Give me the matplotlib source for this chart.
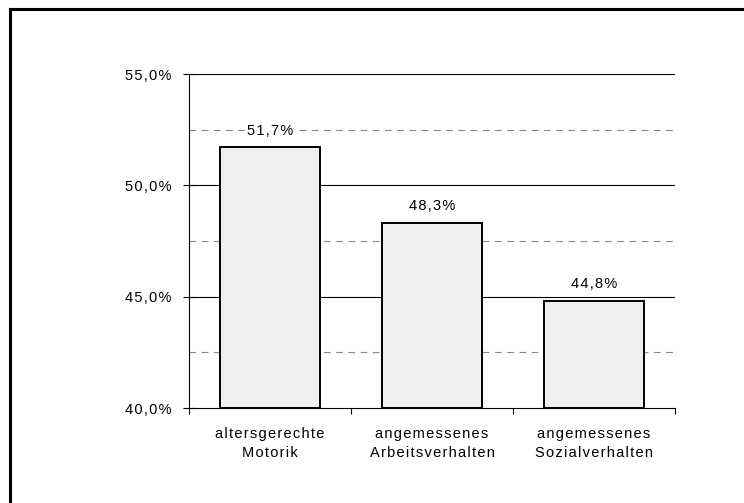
import matplotlib
matplotlib.use("Agg")
import matplotlib.pyplot as plt
from matplotlib.lines import Line2D

categories = ["altersgerechte\nMotorik", "angemessenes\nArbeitsverhalten",
              "angemessenes\nSozialverhalten"]
values = [51.7, 48.3, 44.8]
major_ticks = [40.0, 45.0, 50.0, 55.0]
minor_ticks = [42.5, 47.5, 52.5]

plt.rcParams["font.family"] = ["Liberation Sans", "DejaVu Sans"]


def spaced(s):
    # the reference uses slightly letter-spaced text
    return "\n".join("\u200a".join(line) for line in s.split("\n"))


fig = plt.figure(figsize=(7.44, 5.03), dpi=100)
ax = fig.add_axes([189 / 744, 95 / 503, 486 / 744, 334 / 503])

# outer frame (only top and left visible in reference)
fig.add_artist(Line2D([10 / 744, 10 / 744], [0, 1 - 9 / 503], color="black",
                      linewidth=2.2, transform=fig.transFigure))
fig.add_artist(Line2D([10 / 744, 1], [1 - 9 / 503, 1 - 9 / 503], color="black",
                      linewidth=2.2, transform=fig.transFigure))

x = list(range(len(categories)))
for v in major_ticks[1:]:
    ax.axhline(v, color="black", linewidth=0.8, zorder=0)
for v in minor_ticks:
    ax.axhline(v, color="#888888", linewidth=0.8, linestyle=(0, (6, 5)), zorder=0)

ax.bar(x, [v - 40 for v in values], bottom=40, width=0.62, color="#efefef",
       edgecolor="black", linewidth=1.4, zorder=2)

for xi, v in zip(x, values):
    ax.text(xi, v + 0.75, spaced(f"{v:.1f}%".replace(".", ",")), ha="center",
            va="center", fontsize=10.5, zorder=3,
            bbox=dict(facecolor="white", edgecolor="none", pad=1))

ax.set_xlim(-0.5, 2.5)
ax.set_ylim(40, 55)
ax.set_yticks(major_ticks)
ax.set_yticklabels([spaced(f"{v:.1f}%".replace(".", ",")) for v in major_ticks],
                   fontsize=10.5)
ax.set_xticks([-0.5, 0.5, 1.5, 2.5])
ax.set_xticklabels([])
ax.tick_params(axis="y", direction="inout", length=9, width=0.8, pad=8)
ax.tick_params(axis="x", direction="out", length=4, width=0.8)
for xi, c in zip(x, categories):
    ax.text(xi, 39.15, spaced(c), ha="center", va="top", fontsize=10.5,
            linespacing=1.45)

for s in ["top", "right"]:
    ax.spines[s].set_visible(False)
ax.spines["left"].set_linewidth(0.8)
ax.spines["bottom"].set_linewidth(0.8)

fig.savefig("out.png", dpi=100)
